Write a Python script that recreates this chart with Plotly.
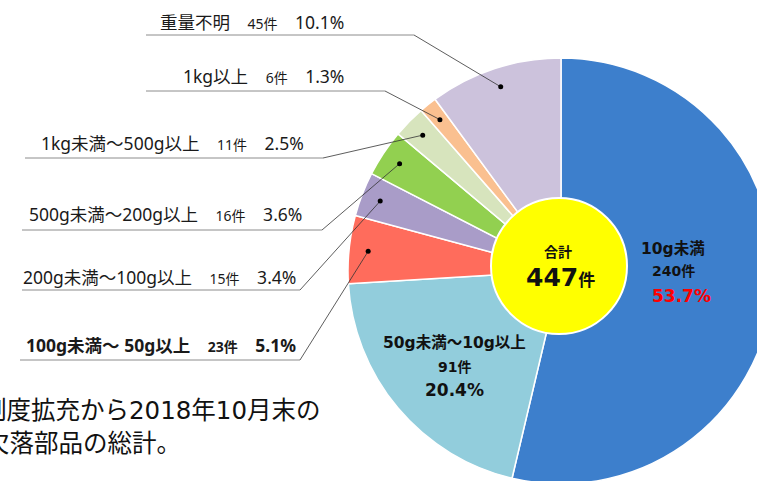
import math
import plotly.graph_objects as go

# ---------------- data ----------------
categories = ["10g未満", "50g未満～10g以上", "100g未満～ 50g以上", "200g未満～100g以上",
              "500g未満～200g以上", "1kg未満～500g以上", "1kg以上", "重量不明"]
counts = [240, 91, 23, 15, 16, 11, 6, 45]
percents = ["53.7%", "20.4%", "5.1%", "3.4%", "3.6%", "2.5%", "1.3%", "10.1%"]
total_label = "447"
colors = ["#3D7FCC", "#92CDDC", "#FF6C5C", "#A99CC8", "#92D050", "#D7E4BD", "#FAC090", "#CCC2DC"]
note_lines = ["制度拡充から2018年10月末の", "欠落部品の総計。"]

# ---------------- geometry (pixels) ----------------
W, H = 780, 490
CX, CY, R = 561, 271, 213

def fx(x):
    return x / W

def fy(y):
    return 1 - y / H

FONT = "DejaVu Sans, Noto Sans CJK JP, sans-serif"
LABEL_FONT = "Noto Sans, Noto Sans CJK JP, sans-serif"

fig = go.Figure()
fig.add_trace(go.Pie(
    values=counts, labels=categories, sort=False, direction="clockwise", rotation=0,
    marker=dict(colors=colors, line=dict(color="white", width=1.5)),
    textinfo="none", hoverinfo="label+value+percent", showlegend=False,
    domain=dict(x=[fx(CX - R), fx(CX + R)], y=[fy(CY + R), fy(CY - R)]),
))

shapes = []
annotations = []

# center yellow circle
HC = (559, 266, 68)
shapes.append(dict(type="circle", xref="paper", yref="paper",
                   x0=fx(HC[0] - HC[2]), x1=fx(HC[0] + HC[2]),
                   y0=fy(HC[1] + HC[2]), y1=fy(HC[1] - HC[2]),
                   fillcolor="#FFFF00", line=dict(color="white", width=2), layer="above"))

# mid angles of slices (clockwise from top)
tot = sum(counts)
mids = []
acc = 0
for c in counts:
    mids.append((acc + c / 2) / tot * 360)
    acc += c

# left labels: (slice index, underline start x, underline end x, underline y, text y, text right x, bold)
left_specs = [
    (7, 146, 414, 35, 22, 346, False),
    (6, 146, 385, 91, 76, 346, False),
    (5, 25, 323, 158, 143, 306, False),
    (4, 22, 322, 230, 214, 304, False),
    (3, 22, 300, 290, 277, 298, False),
    (2, 20, 300, 360, 345, 298, True),
]
DOT_F = 0.91
for idx, sx, ex, uy, ty, tx, bold in left_specs:
    th = math.radians(mids[idx])
    dx = CX + R * DOT_F * math.sin(th)
    dy = CY - R * DOT_F * math.cos(th)
    shapes.append(dict(type="line", xref="paper", yref="paper",
                       x0=fx(sx), x1=fx(ex), y0=fy(uy), y1=fy(uy),
                       line=dict(color="#8C8C8C", width=1), layer="above"))
    shapes.append(dict(type="line", xref="paper", yref="paper",
                       x0=fx(ex), x1=fx(dx), y0=fy(uy), y1=fy(dy),
                       line=dict(color="#333333", width=0.8), layer="above"))
    shapes.append(dict(type="circle", xref="paper", yref="paper",
                       x0=fx(dx - 2.5), x1=fx(dx + 2.5), y0=fy(dy + 2.5), y1=fy(dy - 2.5),
                       fillcolor="black", line=dict(color="black", width=0), layer="above"))
    txt = (f"{categories[idx]}　<span style='font-size:14px'>{counts[idx]}件</span>　{percents[idx]}")
    if bold:
        txt = f"<b>{txt}</b>"
    annotations.append(dict(x=fx(tx), y=fy(ty), xref="paper", yref="paper", text=txt,
                            showarrow=False, xanchor="right", yanchor="middle",
                            font=dict(family=LABEL_FONT, size=17.5, color="#1A1A1A")))

# inside labels
inner = [
    dict(x=fx(673), y=fy(249), text=f"<b>{categories[0]}</b>", font=dict(size=15.5)),
    dict(x=fx(673), y=fy(271), text=f"<b>{counts[0]}件</b>", font=dict(size=14)),
    dict(x=fx(681), y=fy(296), text=f"<b>{percents[0]}</b>", font=dict(size=17, color="#FF0000")),
    dict(x=fx(454), y=fy(343), text=f"<b>{categories[1]}</b>", font=dict(size=15.5)),
    dict(x=fx(454), y=fy(367), text=f"<b>{counts[1]}件</b>", font=dict(size=14)),
    dict(x=fx(454), y=fy(390), text=f"<b>{percents[1]}</b>", font=dict(size=17)),
    dict(x=fx(558), y=fy(252), text="<b>合計</b>", font=dict(size=14)),
    dict(x=fx(560), y=fy(277), text=f"<b>{total_label}<span style='font-size:17px'>件</span></b>",
         font=dict(size=25)),
]
for a in inner:
    a.update(xref="paper", yref="paper", showarrow=False, xanchor="center", yanchor="middle")
    a["font"].setdefault("color", "#111111")
    a["font"]["family"] = FONT
annotations += inner

# bottom note (cropped at the left edge, as in the source slide)
for line, lx, ly in zip(note_lines, [-20, -17], [410, 443]):
    annotations.append(dict(x=fx(lx), y=fy(ly), text=line, xref="paper", yref="paper",
                            showarrow=False, xanchor="left", yanchor="middle",
                            font=dict(family=FONT, size=24.5, color="#111111")))

fig.update_layout(
    width=W, height=H, margin=dict(l=0, r=0, t=0, b=0),
    paper_bgcolor="white", plot_bgcolor="white",
    shapes=shapes, annotations=annotations, showlegend=False,
)

fig.write_html("out.html", config=dict(displayModeBar=False),
               post_script="document.body.style.margin='0';document.body.style.overflow='hidden';"
                           "document.documentElement.style.overflow='hidden';")
